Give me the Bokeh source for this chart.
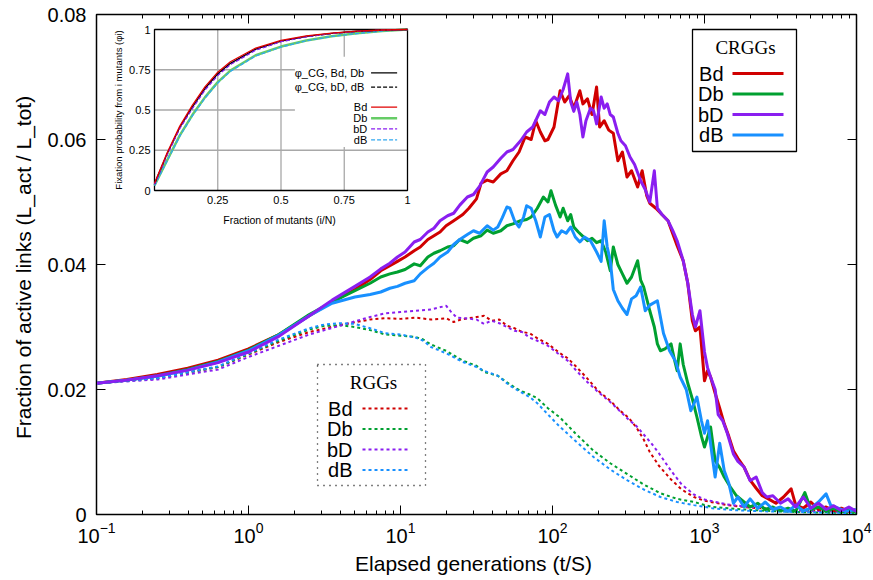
import numpy as np
from bokeh.plotting import figure
from bokeh.models import (Range1d, LinearScale, LogAxis, LinearAxis, FixedTicker)
from bokeh.embed import file_html
from bokeh.resources import INLINE
from bokeh.core.properties import value

SANS = "Liberation Sans"
SERIF = "Liberation Serif"

# ---------------- data (main panel) ----------------
series_names = ["Bd", "Db", "bD", "dB"]
series_colors = ["#d00000", "#00a030", "#8a1ef0", "#1890ff"]

crgg_Bd_logt = [-1.0, -0.8, -0.6, -0.4, -0.2, 0.0, 0.2, 0.4, 0.55, 0.7, 0.8, 0.87, 0.93, 0.98, 1.03, 1.09, 1.13, 1.18, 1.22, 1.26, 1.30, 1.35, 1.41, 1.45, 1.50, 1.53, 1.57, 1.61, 1.66, 1.70, 1.74, 1.78, 1.82, 1.86, 1.89, 1.92, 1.95, 1.97, 2.01, 2.05, 2.08, 2.11, 2.14, 2.18, 2.20, 2.23, 2.26, 2.29, 2.31, 2.34, 2.37, 2.40, 2.43, 2.46, 2.49, 2.52, 2.56, 2.59, 2.62, 2.64, 2.68, 2.72, 2.76, 2.79, 2.82, 2.86, 2.89, 2.92, 2.94, 2.97, 3.00, 3.02, 3.04, 3.07, 3.10, 3.13, 3.16, 3.19, 3.22, 3.26, 3.30, 3.34, 3.38, 3.42, 3.47, 3.52, 3.57, 3.60, 3.65, 3.70, 3.75, 3.80, 3.85, 3.90, 3.95, 4.00]
crgg_Bd_frac = [0.0210, 0.0216, 0.0224, 0.0234, 0.0247, 0.0265, 0.0288, 0.0318, 0.0340, 0.0360, 0.0376, 0.0390, 0.0398, 0.0405, 0.0412, 0.0422, 0.0428, 0.0440, 0.0446, 0.0452, 0.0462, 0.0470, 0.0480, 0.0490, 0.0505, 0.0530, 0.0535, 0.0532, 0.0545, 0.0550, 0.0566, 0.0580, 0.0604, 0.0600, 0.0630, 0.0612, 0.0598, 0.0600, 0.0620, 0.0678, 0.0660, 0.0670, 0.0650, 0.0678, 0.0657, 0.0665, 0.0640, 0.0684, 0.0620, 0.0630, 0.0615, 0.0610, 0.0566, 0.0580, 0.0540, 0.0550, 0.0524, 0.0550, 0.0510, 0.0498, 0.0490, 0.0480, 0.0470, 0.0450, 0.0430, 0.0406, 0.0370, 0.0310, 0.0294, 0.0300, 0.0214, 0.0230, 0.0220, 0.0194, 0.0170, 0.0145, 0.0125, 0.0102, 0.0090, 0.0076, 0.0055, 0.0042, 0.0030, 0.0025, 0.0018, 0.0028, 0.0041, 0.0015, 0.0010, 0.0020, 0.0008, 0.0012, 0.0006, 0.0010, 0.0005, 0.0008]

crgg_Db_logt = [-1.0, -0.8, -0.6, -0.4, -0.2, 0.0, 0.2, 0.4, 0.55, 0.7, 0.8, 0.87, 0.93, 0.98, 1.03, 1.09, 1.13, 1.18, 1.22, 1.26, 1.31, 1.35, 1.39, 1.44, 1.48, 1.53, 1.57, 1.61, 1.66, 1.70, 1.74, 1.79, 1.83, 1.86, 1.90, 1.94, 1.97, 1.99, 2.02, 2.05, 2.07, 2.10, 2.12, 2.14, 2.17, 2.20, 2.23, 2.26, 2.29, 2.32, 2.35, 2.38, 2.40, 2.43, 2.46, 2.49, 2.52, 2.56, 2.58, 2.60, 2.64, 2.67, 2.69, 2.71, 2.74, 2.78, 2.80, 2.82, 2.84, 2.86, 2.89, 2.92, 2.95, 2.98, 3.00, 3.04, 3.07, 3.10, 3.13, 3.17, 3.21, 3.25, 3.30, 3.35, 3.40, 3.45, 3.50, 3.55, 3.60, 3.66, 3.70, 3.75, 3.80, 3.85, 3.90, 3.95, 4.00]
crgg_Db_frac = [0.0210, 0.0215, 0.0222, 0.0232, 0.0245, 0.0263, 0.0288, 0.0320, 0.0340, 0.0358, 0.0370, 0.0380, 0.0385, 0.0388, 0.0392, 0.0401, 0.0398, 0.0412, 0.0418, 0.0422, 0.0428, 0.0430, 0.0440, 0.0435, 0.0442, 0.0446, 0.0455, 0.0450, 0.0454, 0.0462, 0.0465, 0.0470, 0.0472, 0.0476, 0.0490, 0.0508, 0.0500, 0.0518, 0.0495, 0.0476, 0.0490, 0.0470, 0.0480, 0.0460, 0.0452, 0.0445, 0.0438, 0.0442, 0.0435, 0.0438, 0.0420, 0.0390, 0.0428, 0.0400, 0.0385, 0.0370, 0.0380, 0.0406, 0.0375, 0.0364, 0.0326, 0.0300, 0.0273, 0.0262, 0.0265, 0.0273, 0.0250, 0.0230, 0.0273, 0.0240, 0.0210, 0.0185, 0.0156, 0.0125, 0.0108, 0.0140, 0.0086, 0.0075, 0.0060, 0.0044, 0.0030, 0.0022, 0.0012, 0.0018, 0.0008, 0.0012, 0.0006, 0.0010, 0.0005, 0.0035, 0.0008, 0.0012, 0.0005, 0.0010, 0.0004, 0.0008, 0.0003]

crgg_bD_logt = [-1.0, -0.8, -0.6, -0.4, -0.2, 0.0, 0.2, 0.4, 0.55, 0.7, 0.8, 0.87, 0.93, 0.98, 1.03, 1.09, 1.13, 1.18, 1.22, 1.26, 1.31, 1.35, 1.39, 1.44, 1.48, 1.52, 1.57, 1.61, 1.66, 1.70, 1.74, 1.79, 1.83, 1.87, 1.92, 1.95, 1.98, 2.01, 2.04, 2.07, 2.10, 2.12, 2.14, 2.16, 2.18, 2.20, 2.22, 2.25, 2.27, 2.29, 2.32, 2.34, 2.36, 2.38, 2.40, 2.43, 2.45, 2.48, 2.51, 2.54, 2.58, 2.61, 2.64, 2.67, 2.69, 2.72, 2.76, 2.79, 2.82, 2.86, 2.89, 2.92, 2.94, 2.97, 3.00, 3.02, 3.04, 3.07, 3.09, 3.12, 3.15, 3.19, 3.22, 3.26, 3.30, 3.34, 3.38, 3.41, 3.45, 3.50, 3.55, 3.60, 3.65, 3.70, 3.75, 3.80, 3.85, 3.90, 3.95, 4.00]
crgg_bD_frac = [0.0210, 0.0215, 0.0222, 0.0231, 0.0243, 0.0260, 0.0285, 0.0318, 0.0343, 0.0365, 0.0380, 0.0393, 0.0402, 0.0412, 0.0420, 0.0436, 0.0440, 0.0452, 0.0458, 0.0470, 0.0478, 0.0482, 0.0495, 0.0508, 0.0512, 0.0525, 0.0548, 0.0556, 0.0570, 0.0580, 0.0584, 0.0598, 0.0612, 0.0620, 0.0646, 0.0640, 0.0660, 0.0668, 0.0662, 0.0680, 0.0705, 0.0660, 0.0645, 0.0660, 0.0640, 0.0604, 0.0630, 0.0650, 0.0646, 0.0625, 0.0668, 0.0650, 0.0657, 0.0640, 0.0636, 0.0610, 0.0598, 0.0590, 0.0572, 0.0560, 0.0534, 0.0520, 0.0500, 0.0550, 0.0490, 0.0480, 0.0470, 0.0455, 0.0438, 0.0406, 0.0370, 0.0320, 0.0300, 0.0326, 0.0260, 0.0235, 0.0220, 0.0200, 0.0160, 0.0150, 0.0130, 0.0097, 0.0085, 0.0076, 0.0054, 0.0060, 0.0035, 0.0028, 0.0030, 0.0018, 0.0025, 0.0012, 0.0028, 0.0010, 0.0018, 0.0008, 0.0014, 0.0006, 0.0012, 0.0005]

crgg_dB_logt = [-1.0, -0.8, -0.6, -0.4, -0.2, 0.0, 0.2, 0.4, 0.55, 0.7, 0.8, 0.87, 0.93, 0.98, 1.03, 1.09, 1.13, 1.18, 1.22, 1.26, 1.31, 1.35, 1.39, 1.44, 1.48, 1.52, 1.57, 1.61, 1.64, 1.67, 1.70, 1.72, 1.75, 1.78, 1.81, 1.83, 1.86, 1.89, 1.92, 1.95, 1.98, 2.01, 2.03, 2.06, 2.09, 2.12, 2.15, 2.18, 2.21, 2.25, 2.29, 2.32, 2.34, 2.36, 2.38, 2.40, 2.43, 2.46, 2.49, 2.52, 2.55, 2.58, 2.61, 2.64, 2.69, 2.73, 2.77, 2.81, 2.84, 2.88, 2.91, 2.95, 2.98, 3.00, 3.02, 3.05, 3.07, 3.10, 3.13, 3.16, 3.19, 3.22, 3.26, 3.30, 3.35, 3.40, 3.45, 3.50, 3.55, 3.60, 3.65, 3.70, 3.75, 3.80, 3.83, 3.88, 3.93, 4.00]
crgg_dB_frac = [0.0210, 0.0215, 0.0221, 0.0231, 0.0244, 0.0262, 0.0287, 0.0318, 0.0338, 0.0348, 0.0352, 0.0356, 0.0362, 0.0365, 0.0370, 0.0374, 0.0385, 0.0395, 0.0402, 0.0412, 0.0420, 0.0432, 0.0440, 0.0448, 0.0454, 0.0450, 0.0462, 0.0455, 0.0460, 0.0475, 0.0492, 0.0490, 0.0470, 0.0460, 0.0476, 0.0494, 0.0490, 0.0470, 0.0444, 0.0476, 0.0480, 0.0454, 0.0444, 0.0454, 0.0450, 0.0460, 0.0444, 0.0436, 0.0444, 0.0438, 0.0420, 0.0405, 0.0470, 0.0428, 0.0406, 0.0360, 0.0342, 0.0330, 0.0320, 0.0345, 0.0350, 0.0364, 0.0326, 0.0335, 0.0342, 0.0290, 0.0262, 0.0245, 0.0220, 0.0200, 0.0166, 0.0188, 0.0150, 0.0130, 0.0150, 0.0095, 0.0060, 0.0114, 0.0070, 0.0050, 0.0018, 0.0028, 0.0012, 0.0025, 0.0010, 0.0020, 0.0008, 0.0012, 0.0005, 0.0015, 0.0006, 0.0010, 0.0020, 0.0033, 0.0015, 0.0010, 0.0005, 0.0008]

rgg_Bd_logt = [-1.0, -0.6, -0.2, 0.0, 0.2, 0.4, 0.6, 0.8, 0.9, 1.0, 1.1, 1.2, 1.3, 1.35, 1.4, 1.5, 1.55, 1.6, 1.65, 1.7, 1.75, 1.8, 1.85, 1.9, 1.97, 2.05, 2.1, 2.15, 2.22, 2.3, 2.38, 2.45, 2.5, 2.55, 2.6, 2.64, 2.7, 2.78, 2.85, 2.93, 3.0, 3.15, 3.3, 3.5, 3.7, 3.85, 4.0]
rgg_Bd_frac = [0.0210, 0.0218, 0.0236, 0.0256, 0.0276, 0.0292, 0.0303, 0.0312, 0.0314, 0.0313, 0.0315, 0.0312, 0.0314, 0.0308, 0.0312, 0.0316, 0.0318, 0.0310, 0.0312, 0.0302, 0.0298, 0.0292, 0.0290, 0.0282, 0.0273, 0.0258, 0.0250, 0.0238, 0.0220, 0.0198, 0.0182, 0.0165, 0.0155, 0.0140, 0.0120, 0.0100, 0.0078, 0.0056, 0.0040, 0.0028, 0.0022, 0.0015, 0.0011, 0.0008, 0.0006, 0.0005, 0.0004]

rgg_bD_logt = [-1.0, -0.6, -0.2, 0.0, 0.2, 0.4, 0.6, 0.8, 0.9, 1.0, 1.1, 1.2, 1.3, 1.33, 1.37, 1.42, 1.5, 1.55, 1.6, 1.65, 1.7, 1.75, 1.8, 1.85, 1.9, 1.97, 2.05, 2.1, 2.15, 2.22, 2.3, 2.38, 2.45, 2.5, 2.55, 2.6, 2.65, 2.7, 2.78, 2.85, 2.93, 3.0, 3.15, 3.3, 3.5, 3.7, 3.85, 4.0]
rgg_bD_frac = [0.0210, 0.0216, 0.0232, 0.0252, 0.0270, 0.0288, 0.0302, 0.0316, 0.0322, 0.0324, 0.0326, 0.0328, 0.0334, 0.0325, 0.0315, 0.0314, 0.0312, 0.0305, 0.0310, 0.0306, 0.0300, 0.0294, 0.0292, 0.0283, 0.0278, 0.0270, 0.0255, 0.0246, 0.0232, 0.0214, 0.0196, 0.0180, 0.0164, 0.0152, 0.0142, 0.0128, 0.0114, 0.0098, 0.0070, 0.0048, 0.0032, 0.0024, 0.0016, 0.0012, 0.0008, 0.0006, 0.0005, 0.0004]

rgg_Db_logt = [-1.0, -0.6, -0.2, 0.0, 0.2, 0.4, 0.5, 0.6, 0.7, 0.8, 0.9, 1.0, 1.1, 1.15, 1.2, 1.3, 1.41, 1.5, 1.55, 1.64, 1.72, 1.79, 1.85, 1.9, 1.97, 2.05, 2.15, 2.27, 2.38, 2.49, 2.6, 2.71, 2.82, 2.93, 3.05, 3.2, 3.4, 3.6, 3.8, 4.0]
rgg_Db_frac = [0.0210, 0.0218, 0.0236, 0.0257, 0.0278, 0.0296, 0.0302, 0.0303, 0.0300, 0.0295, 0.0288, 0.0286, 0.0284, 0.0280, 0.0272, 0.0262, 0.0246, 0.0238, 0.0228, 0.0222, 0.0208, 0.0198, 0.0192, 0.0186, 0.0170, 0.0155, 0.0130, 0.0102, 0.0082, 0.0065, 0.0048, 0.0034, 0.0025, 0.0020, 0.0012, 0.0009, 0.0006, 0.0004, 0.0003, 0.0002]

rgg_dB_logt = [-1.0, -0.6, -0.2, 0.0, 0.2, 0.4, 0.5, 0.6, 0.7, 0.8, 0.9, 1.0, 1.1, 1.15, 1.2, 1.3, 1.41, 1.5, 1.55, 1.64, 1.72, 1.79, 1.85, 1.9, 1.97, 2.05, 2.15, 2.27, 2.38, 2.49, 2.6, 2.71, 2.82, 2.93, 3.05, 3.2, 3.4, 3.6, 3.8, 4.0]
rgg_dB_frac = [0.0210, 0.0218, 0.0237, 0.0258, 0.0280, 0.0298, 0.0304, 0.0306, 0.0305, 0.0298, 0.0290, 0.0288, 0.0283, 0.0278, 0.0268, 0.0258, 0.0244, 0.0236, 0.0230, 0.0222, 0.0206, 0.0196, 0.0188, 0.0178, 0.0160, 0.0140, 0.0118, 0.0092, 0.0072, 0.0055, 0.0040, 0.0028, 0.0020, 0.0015, 0.0010, 0.0007, 0.0005, 0.0004, 0.0003, 0.0002]

x_ticks = [0.1, 1, 10, 100, 1000, 10000]
y_ticks = [0, 0.02, 0.04, 0.06, 0.08]
y_tick_labels = ["0", "0.02", "0.04", "0.06", "0.08"]

# ---------------- data (inset) ----------------
inset_x = [0, 0.05, 0.1, 0.15, 0.2, 0.25, 0.3, 0.4, 0.5, 0.6, 0.7, 0.8, 0.9, 1.0]
inset_Bd = [0.045, 0.235, 0.400, 0.530, 0.645, 0.735, 0.800, 0.885, 0.932, 0.960, 0.978, 0.990, 0.997, 1.0]
inset_phi_BdDb = [0.040, 0.228, 0.393, 0.520, 0.635, 0.725, 0.790, 0.878, 0.928, 0.957, 0.976, 0.989, 0.997, 1.0]
inset_phi_bDdB = [0.040, 0.225, 0.390, 0.515, 0.630, 0.720, 0.786, 0.875, 0.926, 0.956, 0.975, 0.988, 0.996, 1.0]
inset_bD = [0.038, 0.220, 0.385, 0.510, 0.625, 0.715, 0.782, 0.872, 0.924, 0.955, 0.975, 0.988, 0.996, 1.0]
inset_Db = [0.032, 0.188, 0.342, 0.470, 0.580, 0.673, 0.745, 0.840, 0.894, 0.932, 0.958, 0.976, 0.990, 1.0]
inset_dB = [0.030, 0.184, 0.338, 0.465, 0.575, 0.668, 0.740, 0.836, 0.891, 0.930, 0.957, 0.975, 0.990, 1.0]
inset_x_ticks = [0.25, 0.5, 0.75, 1]
inset_x_labels = ["0.25", "0.5", "0.75", "1"]
inset_y_ticks = [0, 0.25, 0.5, 0.75, 1]
inset_y_labels = ["0", "0.25", "0.5", "0.75", "1"]
inset_grid = [0.25, 0.5, 0.75]
inset_legend_labels = ["\u03c6_CG,  Bd, Db", "\u03c6_CG,  bD, dB", "Bd", "Db", "bD", "dB"]
inset_legend_colors = ["black", "black", "#e00000", "#66cc66", "#8a1ef0", "#30a8f0"]
inset_legend_dash = ["solid", "4 2", "solid", "solid", "4 2", "4 2"]
inset_legend_width = [1.3, 1.3, 1.3, 2.5, 1.3, 1.3]

# ---------------- main figure ----------------
p = figure(width=873, height=580, x_axis_type="log", x_range=(0.1, 1e4), y_range=(0, 0.08),
           output_backend="svg", toolbar_location=None,
           min_border_left=96, min_border_right=17, min_border_top=14, min_border_bottom=66)
p.grid.visible = False
p.outline_line_color = "black"
p.outline_line_width = 1.5
p.background_fill_color = "white"

minor = [m * 10.0 ** k for k in range(-1, 4) for m in range(2, 10)]
xt = FixedTicker(ticks=x_ticks, minor_ticks=minor)
yt = FixedTicker(ticks=y_ticks)

def style_axis(ax, labels=True):
    ax.major_tick_in = 9
    ax.major_tick_out = 0
    ax.minor_tick_in = 4
    ax.minor_tick_out = 0
    ax.axis_line_color = "black"
    ax.major_tick_line_color = "black"
    ax.minor_tick_line_color = "black"
    ax.major_label_text_font = SANS
    ax.major_label_text_color = "black"
    ax.axis_label_text_font = SANS
    ax.axis_label_text_font_size = "21px"
    ax.axis_label_text_font_style = "normal"
    ax.axis_label_text_color = "black"
    if labels:
        ax.major_label_text_font_size = "20px"
    else:
        ax.major_label_text_font_size = "1px"
        ax.major_label_text_alpha = 0
        ax.major_label_standoff = 0

p.xaxis.ticker = xt
style_axis(p.xaxis[0])
p.xaxis.axis_label = "Elapsed generations  (t/S)"
p.xaxis.major_label_standoff = 7
p.xaxis.axis_label_standoff = 6

p.yaxis.ticker = yt
style_axis(p.yaxis[0])
p.yaxis.minor_tick_line_color = None
p.yaxis.major_label_overrides = {t: s for t, s in zip(y_ticks, y_tick_labels)}
p.yaxis.axis_label = "Fraction of active links  (L_act / L_tot)"
p.yaxis.major_label_standoff = 10
p.yaxis.axis_label_standoff = 10

top_ax = LogAxis(ticker=xt)
style_axis(top_ax, labels=False)
p.add_layout(top_ax, "above")
right_ax = LinearAxis(ticker=yt)
style_axis(right_ax, labels=False)
right_ax.minor_tick_line_color = None
p.add_layout(right_ax, "right")

rgg = [(rgg_Bd_logt, rgg_Bd_frac), (rgg_Db_logt, rgg_Db_frac), (rgg_bD_logt, rgg_bD_frac), (rgg_dB_logt, rgg_dB_frac)]
crgg = [(crgg_Bd_logt, crgg_Bd_frac), (crgg_Db_logt, crgg_Db_frac), (crgg_dB_logt, crgg_dB_frac), (crgg_bD_logt, crgg_bD_frac)]
crgg_colors = [series_colors[0], series_colors[1], series_colors[3], series_colors[2]]

for (lt, fr), c in zip(rgg, series_colors):
    p.line(10.0 ** np.array(lt), fr, line_color=c, line_width=2, line_dash="3 3")
for (lt, fr), c in zip(crgg, crgg_colors):
    p.line(10.0 ** np.array(lt), fr, line_color=c, line_width=3, line_join="round")

# pixel coordinate system (frame is 760 x 500) for legends
FW, FH = 760.0, 500.0
p.extra_x_ranges = {"px": Range1d(0, FW)}
p.extra_y_ranges = {"py": Range1d(FH, 0)}
# inset coordinate system: inset frame occupies px 58..311, py 15..176
IX0, IX1, IY0, IY1 = 58.0, 311.0, 15.0, 176.0
iw, ih = IX1 - IX0, IY1 - IY0
p.extra_x_ranges["ix"] = Range1d(-IX0 / iw, (FW - IX0) / iw)
p.extra_y_ranges["iy"] = Range1d(-(FH - IY1) / ih, 1 + IY0 / ih)
p.extra_x_scales = {"px": LinearScale(), "ix": LinearScale()}
p.extra_y_scales = {"py": LinearScale(), "iy": LinearScale()}
PX = dict(x_range_name="px", y_range_name="py")
IN = dict(x_range_name="ix", y_range_name="iy")

# CRGGs legend
p.quad(left=[596], right=[700], top=[15], bottom=[137], fill_color="white",
       line_color="black", line_width=1.3, **PX)
p.text(x=[649], y=[33], text=["CRGGs"], text_font=value(SERIF), text_font_size="19px",
       text_align="center", text_baseline="middle", text_color="black", **PX)
crgg_rows = [59, 79.5, 100, 120.5]
p.text(x=[627] * 4, y=crgg_rows, text=series_names, text_font=value(SANS), text_font_size="20px",
       text_align="right", text_baseline="middle", text_color="black", **PX)
p.segment(x0=[636] * 4, x1=[687] * 4, y0=crgg_rows, y1=crgg_rows, line_color=series_colors,
          line_width=3, **PX)

# RGGs legend
p.quad(left=[221], right=[329], top=[350], bottom=[471], fill_color="white",
       line_color="black", line_width=1.3, line_dash="1 5", **PX)
p.text(x=[277], y=[368], text=["RGGs"], text_font=value(SERIF), text_font_size="19px",
       text_align="center", text_baseline="middle", text_color="black", **PX)
rgg_rows = [394, 414.5, 435, 455.5]
p.text(x=[256] * 4, y=rgg_rows, text=series_names, text_font=value(SANS), text_font_size="20px",
       text_align="right", text_baseline="middle", text_color="black", **PX)
p.segment(x0=[266] * 4, x1=[314] * 4, y0=rgg_rows, y1=rgg_rows, line_color=series_colors,
          line_width=2, line_dash="3 3", **PX)

# ---------------- inset ----------------
p.quad(left=[0], right=[1], bottom=[0], top=[1], fill_color="white", line_color=None, **IN)
p.segment(x0=inset_grid, x1=inset_grid, y0=[0] * 3, y1=[1] * 3, line_color="#a8a8a8", line_width=1.3, **IN)
p.segment(x0=[0] * 3, x1=[1] * 3, y0=inset_grid, y1=inset_grid, line_color="#a8a8a8", line_width=1.3, **IN)
# legend background covering the grid
p.quad(left=[0.555], right=[1.0], top=[0.83], bottom=[0.27], fill_color="white", line_color=None, **IN)
p.quad(left=[0], right=[1], bottom=[0], top=[1], fill_color=None, line_color="black", line_width=1.3, **IN)

p.line(inset_x, inset_Db, line_color="#66cc66", line_width=2.5, **IN)
p.line(inset_x, inset_dB, line_color="#30a8f0", line_width=1.3, line_dash="4 2", **IN)
p.line(inset_x, inset_phi_bDdB, line_color="black", line_width=1.3, line_dash="4 2", **IN)
p.line(inset_x, inset_phi_BdDb, line_color="black", line_width=1.3, **IN)
p.line(inset_x, inset_bD, line_color="#8a1ef0", line_width=1.3, line_dash="4 2", **IN)
p.line(inset_x, inset_Bd, line_color="#e00000", line_width=1.3, **IN)

# inset tick labels and titles
p.text(x=inset_x_ticks, y=[0] * 4, text=inset_x_labels, y_offset=5, text_font=value(SANS),
       text_font_size="11px", text_align="center", text_baseline="top", text_color="black", **IN)
p.text(x=[0] * 5, y=inset_y_ticks, text=inset_y_labels, x_offset=-4, text_font=value(SANS),
       text_font_size="11px", text_align="right", text_baseline="middle", text_color="black", **IN)
p.text(x=[0.5], y=[0], text=["Fraction of mutants  (i/N)"], y_offset=29, text_font=value(SANS),
       text_font_size="10.5px", text_align="center", text_baseline="middle", text_color="black", **IN)
p.text(x=[0], y=[0.5], text=["Fixation probability from i mutants (\u03c6i)"], x_offset=-36,
       angle=np.pi / 2, text_font=value(SANS), text_font_size="9.5px", text_align="center",
       text_baseline="middle", text_color="black", **IN)

inset_rows = [0.731, 0.642, 0.518, 0.449, 0.383, 0.315]
p.text(x=[0.841] * 6, y=inset_rows, text=inset_legend_labels, text_font=value(SANS),
       text_font_size="11px", text_align="right", text_baseline="middle", text_color="black", **IN)
for yy, c, d, w in zip(inset_rows, inset_legend_colors, inset_legend_dash, inset_legend_width):
    p.segment(x0=[0.856], x1=[0.959], y0=[yy], y1=[yy], line_color=c, line_dash=d, line_width=w, **IN)

with open("out.html", "w") as f:
    f.write(file_html(p, INLINE))
